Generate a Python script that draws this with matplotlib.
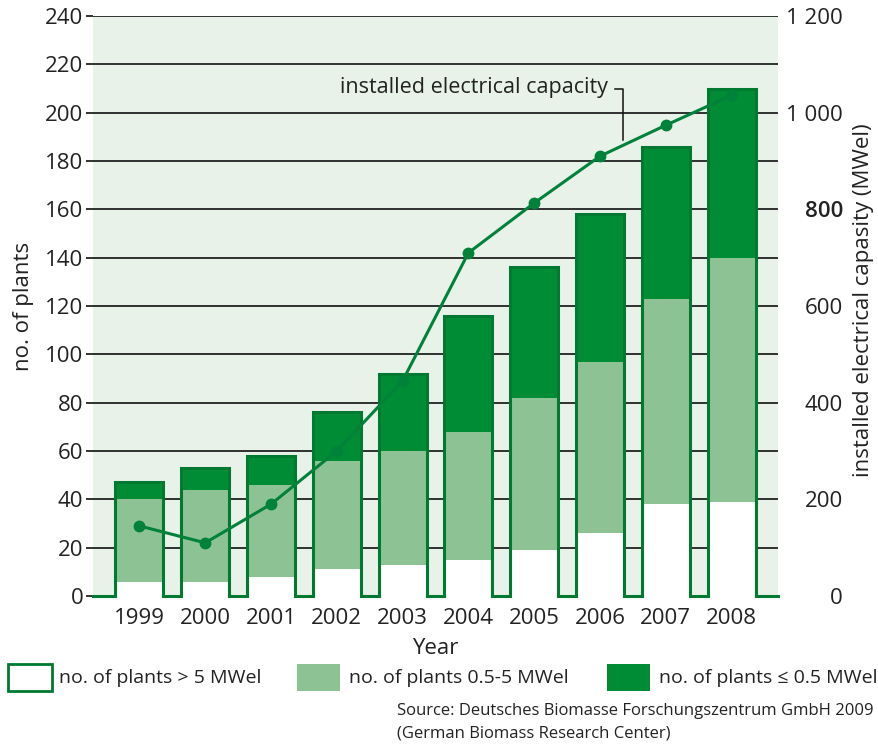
import matplotlib
matplotlib.use("Agg")
import matplotlib.pyplot as plt
from matplotlib.patches import Rectangle
import numpy as np

plt.rcParams['font.family'] = ['Open Sans', 'DejaVu Sans']

years = ['1999', '2000', '2001', '2002', '2003', '2004', '2005', '2006', '2007', '2008']
plants_large = [6, 6, 8, 11, 13, 15, 19, 26, 38, 39]          # > 5 MWel
plants_medium = [34, 38, 38, 45, 47, 53, 63, 71, 85, 101]      # 0.5-5 MWel
plants_small = [7, 9, 12, 20, 32, 48, 54, 61, 63, 70]          # <= 0.5 MWel
capacity = [145, 110, 190, 300, 445, 710, 813, 910, 974, 1036]  # MWel

left_ticks = [0, 20, 40, 60, 80, 100, 120, 140, 160, 180, 200, 220, 240]
right_ticks = [0, 200, 400, 600, 800, 1000, 1200]
right_tick_labels = ['0', '200', '400', '600', '800', '1 000', '1 200']

BG = '#E8F2E9'
LIGHT = '#8CC294'
DARK = '#008C35'
EDGE = '#007A30'
LINE = '#00823A'
TXT = '#222222'

W, H = 879, 746
fig = plt.figure(figsize=(W / 100, H / 100), dpi=100)
ax = fig.add_axes([93 / W, 1 - 596 / H, (778 - 93) / W, (596 - 16) / H])
ax.set_facecolor(BG)

x = np.arange(len(years))
width = 0.73
large = np.array(plants_large)
medium = np.array(plants_medium)
small = np.array(plants_small)
total = large + medium + small

ax.bar(x, large, width, color='white', zorder=3, linewidth=0)
ax.bar(x, medium, width, bottom=large, color=LIGHT, zorder=3, linewidth=0)
ax.bar(x, small, width, bottom=large + medium, color=DARK, zorder=3, linewidth=0)

xmin, xmax = -0.705, len(years) - 1 + 0.705
# silhouette outline of the bars
px, py = [xmin], [0]
for xi, t in zip(x, total):
    l, r = xi - width / 2, xi + width / 2
    px += [l, l, r, r]
    py += [0, t, t, 0]
px.append(xmax)
py.append(0)
ax.plot(px, py, color=EDGE, lw=2.2, zorder=4, solid_joinstyle='miter', clip_on=False)

ax.set_xlim(xmin, xmax)
ax.set_ylim(0, 240)
ax.set_yticks(left_ticks)
ax.grid(axis='y', color='#111111', lw=1.2, zorder=1)
ax.set_axisbelow(True)
for s in ax.spines.values():
    s.set_visible(False)
ax.set_xticks(x)
ax.set_xticklabels(years)
ax.tick_params(axis='x', length=0, pad=9, labelsize=16, labelcolor=TXT)
ax.tick_params(axis='y', length=5, width=1.2, color='#111111', pad=2, labelsize=16, labelcolor=TXT)
ax.set_xlabel('Year', fontsize=16, color=TXT, labelpad=6)
ax.set_ylabel('no. of plants', fontsize=16, color=TXT, labelpad=8)

ax2 = ax.twinx()
ax2.set_ylim(0, 1200)
ax2.set_yticks(right_ticks)
ax2.set_yticklabels(right_tick_labels)
for s in ax2.spines.values():
    s.set_visible(False)
ax2.tick_params(axis='y', length=0, pad=0, labelsize=16, labelcolor=TXT)
for lab in ax2.get_yticklabels():
    lab.set_horizontalalignment('right')
    lab.set_x(1.0 + 65 / 685)
    if lab.get_text() == '800':
        lab.set_fontweight('semibold')
ax2.plot(x, capacity, color=LINE, lw=2.2, marker='o', markersize=7.5, zorder=5)
ax2.set_ylabel('installed electrical capasity (MWel)', fontsize=16, color=TXT,
               rotation=90, va='center', ha='center')
ax2.yaxis.set_label_coords(1.125, 0.51)

# annotation
ax.text(3.05, 210.5, 'installed electrical capacity', fontsize=15.5, color=TXT,
        va='center', ha='left', zorder=6)
ax.plot([7.23, 7.35, 7.35], [210, 210, 188.5], color='#111111', lw=1.1, zorder=6)

# legend
def fx(p):
    return p / W

def fy(p):
    return 1 - p / H

fig.patches.append(Rectangle((fx(8), fy(691)), fx(44), 27 / H, transform=fig.transFigure,
                             facecolor='white', edgecolor=EDGE, lw=2.0))
fig.patches.append(Rectangle((fx(297), fy(691)), fx(43), 27 / H, transform=fig.transFigure,
                             facecolor=LIGHT, edgecolor='none'))
fig.patches.append(Rectangle((fx(607), fy(691)), fx(43), 27 / H, transform=fig.transFigure,
                             facecolor=DARK, edgecolor='none'))
fig.text(fx(59), fy(678), 'no. of plants > 5 MWel', fontsize=14, color=TXT, va='center')
fig.text(fx(349), fy(678), 'no. of plants 0.5-5 MWel', fontsize=14, color=TXT, va='center')
fig.text(fx(659), fy(678), 'no. of plants ≤ 0.5 MWel', fontsize=14, color=TXT, va='center')
fig.text(fx(397), fy(711), 'Source: Deutsches Biomasse Forschungszentrum GmbH 2009', fontsize=12,
         color=TXT, va='center')
fig.text(fx(397), fy(733), '(German Biomass Research Center)', fontsize=12, color=TXT, va='center')

fig.savefig('out.png', dpi=100)
